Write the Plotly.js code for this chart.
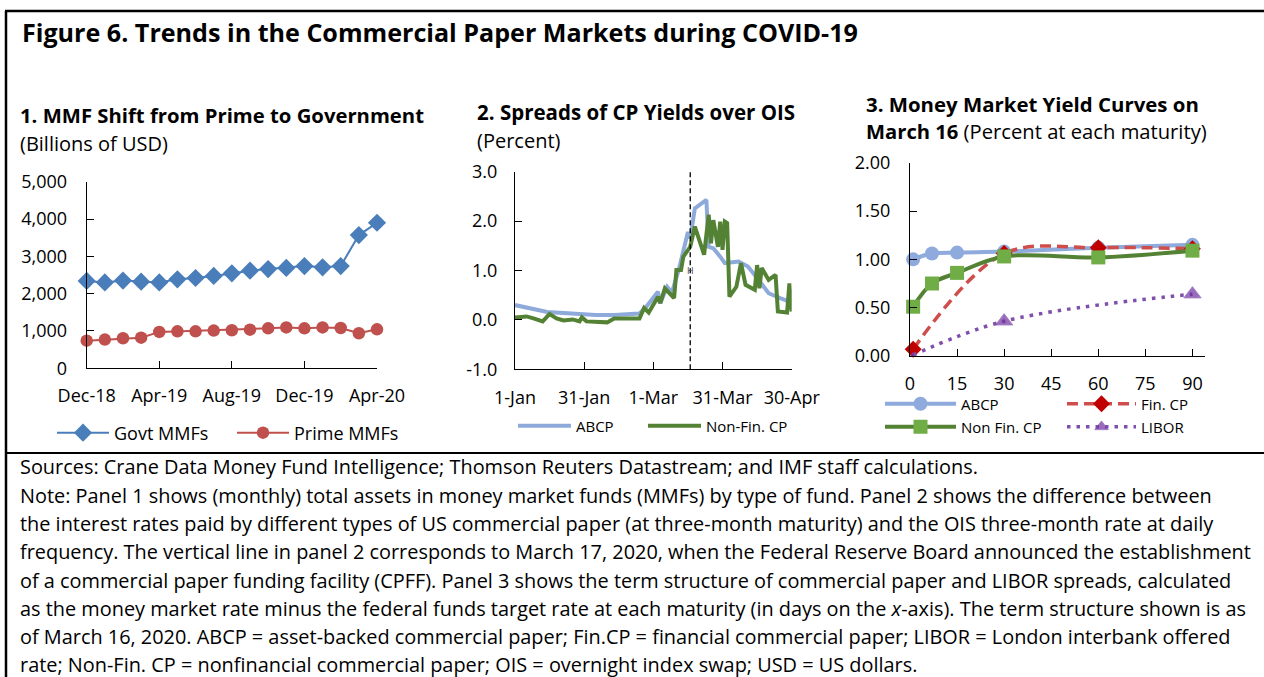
<!DOCTYPE html>
<html>
<head>
<meta charset="utf-8">
<script src="https://cdn.plot.ly/plotly-3.0.1.min.js"></script>
<style>html,body{margin:0;padding:0;background:#fff;overflow:hidden;}#chart{width:1264px;height:677px;overflow:hidden;}</style>
</head>
<body>
<div id="chart"></div>
<script>
// ---------- Panel 1: MMF assets (billions of USD), monthly ----------
const months = ["Dec-18","Jan-19","Feb-19","Mar-19","Apr-19","May-19","Jun-19","Jul-19","Aug-19","Sep-19","Oct-19","Nov-19","Dec-19","Jan-20","Feb-20","Mar-20","Apr-20"];
const govtMMF  = [2340,2300,2350,2320,2300,2385,2420,2475,2545,2615,2660,2690,2740,2705,2740,3570,3900];
const primeMMF = [740,770,805,820,975,990,990,1010,1020,1035,1070,1095,1070,1095,1080,940,1045];
const p1TickLabels = ["Dec-18","Apr-19","Aug-19","Dec-19","Apr-20"];
const p1YTicks = [0,1000,2000,3000,4000,5000];

// ---------- Panel 2: spreads over OIS (percent), daily ----------
const abcpDates = ["2020-01-01","2020-01-08","2020-01-15","2020-01-22","2020-01-29","2020-02-05","2020-02-13","2020-02-20","2020-02-24","2020-02-27","2020-03-03","2020-03-04","2020-03-07","2020-03-09","2020-03-12","2020-03-16","2020-03-17","2020-03-19","2020-03-24","2020-03-25","2020-03-27","2020-03-30","2020-04-01","2020-04-07","2020-04-11","2020-04-15","2020-04-20","2020-04-25","2020-04-29"];
const abcpSpread = [0.30,0.24,0.16,0.14,0.11,0.10,0.10,0.11,0.13,0.27,0.57,0.34,0.67,0.55,1.01,1.78,1.65,2.26,2.43,1.48,1.45,1.28,1.15,1.18,1.08,0.85,0.54,0.44,0.37];
const nfcpDates = ["2020-01-01","2020-01-06","2020-01-09","2020-01-13","2020-01-16","2020-01-19","2020-01-22","2020-01-26","2020-01-29","2020-01-30","2020-02-01","2020-02-05","2020-02-10","2020-02-13","2020-02-17","2020-02-20","2020-02-24","2020-02-26","2020-02-28","2020-03-03","2020-03-04","2020-03-06","2020-03-10","2020-03-11","2020-03-13","2020-03-14","2020-03-17","2020-03-19","2020-03-23","2020-03-25","2020-03-26","2020-03-27","2020-03-29","2020-03-30","2020-03-31","2020-04-01","2020-04-02","2020-04-03","2020-04-06","2020-04-08","2020-04-10","2020-04-14","2020-04-15","2020-04-16","2020-04-17","2020-04-20","2020-04-23","2020-04-24","2020-04-28","2020-04-29","2020-04-30"];
const nfcpSpread = [0.05,0.07,0.03,-0.03,0.12,0.03,-0.01,0.01,-0.03,0.05,-0.03,-0.04,-0.05,0.03,0.03,0.05,0.03,0.24,0.15,0.47,0.34,0.64,0.44,1.01,1.01,1.28,1.48,1.89,1.32,2.13,1.55,2.02,1.48,1.99,1.42,1.99,1.96,0.47,0.67,1.15,0.71,0.61,1.11,0.64,1.05,0.81,0.91,0.17,0.15,0.74,0.17];
const cpffDate = "2020-03-17";
const p2TickDates = ["2020-01-01","2020-01-31","2020-03-01","2020-03-31","2020-04-30"];
const p2TickLabels = ["1-Jan","31-Jan","1-Mar","31-Mar","30-Apr"];
const p2YTicks = [-1,0,1,2,3];
const p2YLabels = ["-1.0","0.0","1.0","2.0","3.0"];

// ---------- Panel 3: yield curves on March 16 (percent, maturity in days) ----------
const abcpMat = [1,7,15,30,60,90];
const abcpYield = [1.00,1.06,1.07,1.08,1.12,1.15];
const finMat = [1,30,60,90];
const finYield = [0.07,1.06,1.12,1.11];
const nonfinMat = [1,7,15,30,60,90];
const nonfinYield = [0.51,0.75,0.86,1.03,1.02,1.09];
const liborMat = [1,30,90];
const liborYield = [0.01,0.36,0.64];
const p3XTicks = [0,15,30,45,60,75,90];
const p3YTicks = [0,0.5,1,1.5,2];

// ---------- helpers for pixel placement ----------
const W = 1264, H = 677;
const X = p => p / W;
const Y = p => 1 - p / H;
const FONT = '"Open Sans", "Noto Sans", sans-serif';

const traces = [
  {x: months, y: govtMMF, type:'scatter', mode:'lines+markers', name:'Govt MMFs',
   line:{color:'#4a7ebb', width:2}, marker:{symbol:'diamond', size:14, color:'#4a7ebb'},
   cliponaxis:false, xaxis:'x', yaxis:'y', legend:'legend'},
  {x: months, y: primeMMF, type:'scatter', mode:'lines+markers', name:'Prime MMFs',
   line:{color:'#c0504d', width:2}, marker:{symbol:'circle', size:12.5, color:'#c0504d'},
   cliponaxis:false, xaxis:'x', yaxis:'y', legend:'legend2'},

  {x: abcpDates, y: abcpSpread, type:'scatter', mode:'lines', name:'ABCP',
   line:{color:'#8eaadb', width:4}, cliponaxis:false, xaxis:'x2', yaxis:'y2', legend:'legend3'},
  {x: nfcpDates, y: nfcpSpread, type:'scatter', mode:'lines', name:'Non-Fin. CP',
   line:{color:'#548235', width:4}, cliponaxis:false, xaxis:'x2', yaxis:'y2', legend:'legend4'},

  {x: abcpMat, y: abcpYield, type:'scatter', mode:'lines+markers', name:'ABCP',
   line:{color:'#8faadc', width:4, shape:'spline'}, marker:{symbol:'circle', size:14, color:'#8faadc'},
   cliponaxis:false, xaxis:'x3', yaxis:'y3', legend:'legend5'},
  {x: finMat, y: finYield, type:'scatter', mode:'lines+markers', name:'Fin. CP',
   line:{color:'#cf4d4a', width:3.5, dash:'11px,6px', shape:'spline'}, marker:{symbol:'diamond', size:13, color:'#c00000'},
   cliponaxis:false, xaxis:'x3', yaxis:'y3', legend:'legend6'},
  {x: nonfinMat, y: nonfinYield, type:'scatter', mode:'lines+markers', name:'Non Fin. CP',
   line:{color:'#548235', width:4, shape:'spline'}, marker:{symbol:'square', size:14, color:'#70ad47'},
   cliponaxis:false, xaxis:'x3', yaxis:'y3', legend:'legend7'},
  {x: liborMat, y: liborYield, type:'scatter', mode:'lines+markers', name:'LIBOR',
   line:{color:'#7f4fae', width:3.5, dash:'3.5px,6px', shape:'spline'}, marker:{symbol:'triangle-up', size:[5,15,15], color:'#7030a0'},
   cliponaxis:false, xaxis:'x3', yaxis:'y3', legend:'legend8'}
];

const axisBase = {
  showline:true, linecolor:'#000', linewidth:1, ticks:'inside', ticklen:7, tickcolor:'#000', tickwidth:1,
  showgrid:false, zeroline:false, fixedrange:true, tickfont:{size:18, color:'#000', family:FONT}
};

function ann(text, px, py, size, opts) {
  return Object.assign({text:text, xref:'paper', yref:'paper', x:X(px), y:Y(py), xanchor:'left', yanchor:'middle',
    showarrow:false, font:{family:FONT, size:size, color:'#000'}}, opts || {});
}
function legendAt(px, py, size, itemw) {
  return {orientation:'h', x:X(px), y:Y(py), xanchor:'left', yanchor:'middle', bgcolor:'rgba(0,0,0,0)',
    borderwidth:0, font:{family:FONT, size:size, color:'#000'}, itemwidth:itemw};
}

const noteLines = [
  "Sources: Crane Data Money Fund Intelligence; Thomson Reuters Datastream; and IMF staff calculations.",
  "Note: Panel 1 shows (monthly) total assets in money market funds (MMFs) by type of fund. Panel 2 shows the difference between",
  "the interest rates paid by different types of US commercial paper (at three-month maturity) and the OIS three-month rate at daily",
  "frequency. The vertical line in panel 2 corresponds to March 17, 2020, when the Federal Reserve Board announced the establishment",
  "of a commercial paper funding facility (CPFF). Panel 3 shows the term structure of commercial paper and LIBOR spreads, calculated",
  "as the money market rate minus the federal funds target rate at each maturity (in days on the <i>x</i>-axis). The term structure shown is as",
  "of March 16, 2020. ABCP = asset-backed commercial paper; Fin.CP = financial commercial paper; LIBOR = London interbank offered",
  "rate; Non-Fin. CP = nonfinancial commercial paper; OIS = overnight index swap; USD = US dollars."
];
const noteY = [467, 495.3, 523.6, 551.9, 580.2, 608.5, 636.8, 664.5];

const annotations = [
  ann("<b>Figure 6. Trends in the Commercial Paper Markets during COVID-19</b>", 20, 32, 25.1),
  ann("<b>1. MMF Shift from Prime to Government</b>", 18, 115, 20.3),
  ann("(Billions of USD)", 18, 143, 20),
  ann("<b>2. Spreads of CP Yields over OIS</b>", 475, 112, 20.5),
  ann("(Percent)", 475, 140, 20),
  ann("<b>3. Money Market Yield Curves on</b>", 864, 104, 20.4),
  ann("<b>March 16</b> (Percent at each maturity)", 864, 131, 20.2),
  {text:"H", xref:'x2', yref:'y2', x:cpffDate, y:1.0, showarrow:false, font:{family:FONT, size:9, color:'#444'}}
];
noteLines.forEach((t, i) => annotations.push(ann(t, 18, noteY[i], 19.9)));

const layout = {
  width:W, height:H, margin:{l:0, r:0, t:0, b:0},
  paper_bgcolor:'#fff', plot_bgcolor:'rgba(0,0,0,0)',
  font:{family:FONT, color:'#000'},
  showlegend:true,
  xaxis: Object.assign({}, axisBase, {domain:[X(86.7), X(377)], type:'category', range:[0,16],
    tickmode:'array', tickvals:p1TickLabels, ticktext:p1TickLabels, anchor:'y', ticklabelstandoff:11}),
  yaxis: Object.assign({}, axisBase, {domain:[Y(368.3), Y(181.7)], range:[0,5000],
    tickmode:'array', tickvals:p1YTicks, tickformat:',d', anchor:'x', ticklabelstandoff:15}),
  xaxis2: Object.assign({}, axisBase, {domain:[X(515), X(791.7)], type:'date', range:['2020-01-01','2020-04-30'],
    tickmode:'array', tickvals:p2TickDates, ticktext:p2TickLabels, anchor:'y2', ticklabelstandoff:12}),
  yaxis2: Object.assign({}, axisBase, {domain:[Y(369.3), Y(171.7)], range:[-1,3],
    tickmode:'array', tickvals:p2YTicks, ticktext:p2YLabels, anchor:'x2', ticklabelstandoff:13}),
  xaxis3: Object.assign({}, axisBase, {domain:[X(910), X(1205)], range:[0,94],
    tickmode:'array', tickvals:p3XTicks, anchor:'y3', ticklabelstandoff:11}),
  yaxis3: Object.assign({}, axisBase, {domain:[Y(356), Y(162.7)], range:[0,2],
    tickmode:'array', tickvals:p3YTicks, tickformat:'.2f', anchor:'x3', ticklabelstandoff:15}),
  legend:  legendAt(52, 433, 18, 52),
  legend2: legendAt(232, 433, 18, 52),
  legend3: legendAt(513, 426, 15, 53),
  legend4: legendAt(643, 426, 15, 53),
  legend5: legendAt(880, 404, 15, 71),
  legend6: legendAt(1062, 404, 15, 69),
  legend7: legendAt(880, 427, 15, 71),
  legend8: legendAt(1062, 427, 15, 69),
  shapes: [
    {type:'line', xref:'paper', yref:'paper', x0:X(5), x1:1, y0:Y(11), y1:Y(11), line:{color:'#000', width:2.5}},
    {type:'line', xref:'paper', yref:'paper', x0:X(6), x1:X(6), y0:Y(11), y1:0, line:{color:'#000', width:2.5}},
    {type:'line', xref:'paper', yref:'paper', x0:X(5), x1:1, y0:Y(453), y1:Y(453), line:{color:'#000', width:2}},
    {type:'line', xref:'x2', yref:'y2 domain', x0:cpffDate, x1:cpffDate, y0:0, y1:1, line:{color:'#000', width:1.3, dash:'5px,3px'}}
  ],
  annotations: annotations
};

Plotly.newPlot('chart', traces, layout, {displayModeBar:false, staticPlot:true});
</script>
</body>
</html>
